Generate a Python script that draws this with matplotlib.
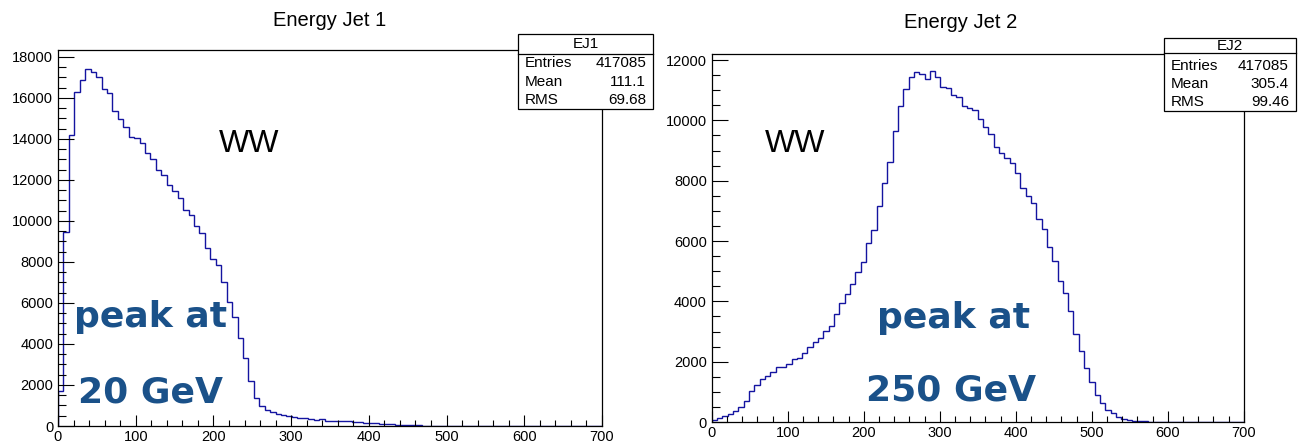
#!/usr/bin/env python3
#
# Energy of jet 1 and jet 2 for WW events (two ROOT style histograms)
#

import numpy as np
import matplotlib
matplotlib.use('Agg')
import matplotlib.pyplot as plt
from matplotlib.patches import Rectangle
from matplotlib.lines import Line2D
from matplotlib.ticker import MultipleLocator

# binning: 100 bins from 0 to 700
edges = np.linspace(0, 700, 101)

ej1_counts = [
    1720, 9440, 14210, 16290, 16860, 17420, 17250, 16990, 16420, 16210,
    15350, 14950, 14560, 14080, 14020, 13820, 13290, 13030, 12480, 12230,
    11730, 11440, 11100, 10530, 10280, 9760, 9390, 8660, 8160, 7830,
    7000, 6060, 5300, 4300, 3300, 2210, 1380, 990, 780, 670,
    600, 550, 490, 440, 410, 375, 355, 290, 325, 260,
    245, 225, 245, 225, 195, 180, 160, 145, 130, 115,
    97, 81, 65, 57, 49, 40, 32, 24, 16, 12,
    10, 8, 7, 6, 5, 4, 3, 3, 2, 2,
    2, 1, 1, 1, 1, 1, 1, 0, 0, 0,
    1, 0, 0, 0, 0, 0, 0, 0, 0, 0,
]

ej2_counts = [
    66, 120, 200, 276, 354, 486, 696, 1040, 1226, 1436,
    1525, 1670, 1834, 1834, 1911, 2077, 2133, 2276, 2497, 2663,
    2770, 3030, 3190, 3570, 3960, 4230, 4570, 4960, 5310, 5920,
    6370, 7170, 7910, 8610, 9650, 10490, 11030, 11450, 11590, 11530,
    11360, 11620, 11430, 11120, 11080, 10840, 10760, 10490, 10420, 10340,
    10030, 9790, 9540, 9130, 8910, 8760, 8570, 8240, 7750, 7500,
    7250, 6720, 6390, 5790, 5350, 4690, 4270, 3690, 2920, 2350,
    1780, 1340, 895, 620, 400, 287, 177, 100, 50, 40,
    25, 20, 15, 10, 8, 6, 5, 4, 3, 2,
    2, 1, 1, 1, 1, 0, 0, 0, 0, 0,
]

titles = ["Energy Jet 1", "Energy Jet 2"]
names = ["EJ1", "EJ2"]
stat_labels = ["Entries", "Mean", "RMS"]
ej1_stats = ["417085", "111.1", "69.68"]
ej2_stats = ["417085", "305.4", "99.46"]
sample = "WW"
peak_lines = [["peak at", "20 GeV"], ["peak at", "250 GeV"]]

W, H = 1305, 446
SANS = "Liberation Sans"
HIST_COLOR = "#1414a0"
PEAK_COLOR = "#1a5189"

plt.rcParams['font.family'] = [SANS, 'DejaVu Sans']

fig = plt.figure(figsize=(W / 100, H / 100), dpi=100)


def fx(px):
    return px / W


def fy(py):
    return 1 - py / H


def add_hist_axes(left, right, top, bottom):
    return fig.add_axes([fx(left), fy(bottom), fx(right - left), (bottom - top) / H])


def style_axes(ax, ymax, ymajor, width_px, height_px):
    ax.set_xlim(0, 700)
    ax.set_ylim(0, ymax)
    ax.xaxis.set_major_locator(MultipleLocator(100))
    ax.xaxis.set_minor_locator(MultipleLocator(20))
    ax.yaxis.set_major_locator(MultipleLocator(ymajor))
    ax.yaxis.set_minor_locator(MultipleLocator(500))
    ylen = 0.03 * width_px * 0.72
    xlen = 0.03 * height_px * 0.72
    ax.tick_params(axis='y', which='major', direction='in', length=ylen, width=0.8,
                   labelsize=10.5, pad=3.5, right=False)
    ax.tick_params(axis='y', which='minor', direction='in', length=ylen / 2, width=0.8,
                   right=False)
    ax.tick_params(axis='x', which='major', direction='in', length=xlen, width=0.8,
                   labelsize=10.5, pad=3, top=False)
    ax.tick_params(axis='x', which='minor', direction='in', length=xlen / 2, width=0.8,
                   top=False)
    for s in ax.spines.values():
        s.set_linewidth(0.9)


def stats_box(x0, x1, y0, y1, ydiv, name, values, rows_y, name_y):
    fig.add_artist(Rectangle((fx(x0), fy(y1)), fx(x1 - x0), (y1 - y0) / H,
                             transform=fig.transFigure, facecolor='white',
                             edgecolor='black', linewidth=0.9, zorder=10))
    fig.add_artist(Line2D([fx(x0), fx(x1)], [fy(ydiv), fy(ydiv)],
                          transform=fig.transFigure, color='black', linewidth=0.9,
                          zorder=11))
    fig.text(fx((x0 + x1) / 2), fy(name_y), name, ha='center', va='center',
             fontsize=11, zorder=12)
    for lab, val, yy in zip(stat_labels, values, rows_y):
        fig.text(fx(x0 + 7), fy(yy), lab, ha='left', va='center', fontsize=11, zorder=12)
        fig.text(fx(x1 - 7), fy(yy), val, ha='right', va='center', fontsize=11, zorder=12)


# left pad: jet 1
ax1 = add_hist_axes(58, 602, 50, 426)
ax1.stairs(ej1_counts, edges, color=HIST_COLOR, linewidth=1.0)
style_axes(ax1, 18330, 2000, 544, 376)
ax1.text(207, 13340, sample, fontsize=23, ha='left', va='baseline')
ax1.text(20.5, 4820, peak_lines[0][0], fontsize=26, family='DejaVu Sans',
         fontweight='bold', color=PEAK_COLOR, ha='left', va='baseline')
ax1.text(25.5, 1135, peak_lines[0][1], fontsize=26, family='DejaVu Sans',
         fontweight='bold', color=PEAK_COLOR, ha='left', va='baseline')
fig.text(fx(330), fy(20), titles[0], ha='center', va='center', fontsize=14.5)

# right pad: jet 2
ax2 = add_hist_axes(711.7, 1243.7, 54, 422)
ax2.stairs(ej2_counts, edges, color=HIST_COLOR, linewidth=1.0)
style_axes(ax2, 12200, 2000, 532, 368)
ax2.text(70, 8950, sample, fontsize=23, ha='left', va='baseline')
ax2.text(217.5, 3116, peak_lines[1][0], fontsize=26, family='DejaVu Sans',
         fontweight='bold', color=PEAK_COLOR, ha='left', va='baseline')
ax2.text(203, 729, peak_lines[1][1], fontsize=26, family='DejaVu Sans',
         fontweight='bold', color=PEAK_COLOR, ha='left', va='baseline')
fig.text(fx(961), fy(22), titles[1], ha='center', va='center', fontsize=14.5)

stats_box(518, 653, 34, 109, 54, names[0], ej1_stats, [63, 82, 100], 44)
stats_box(1164, 1296, 38, 111, 53, names[1], ej2_stats, [66, 84, 102], 46)

fig.savefig("out.png", dpi=100)
